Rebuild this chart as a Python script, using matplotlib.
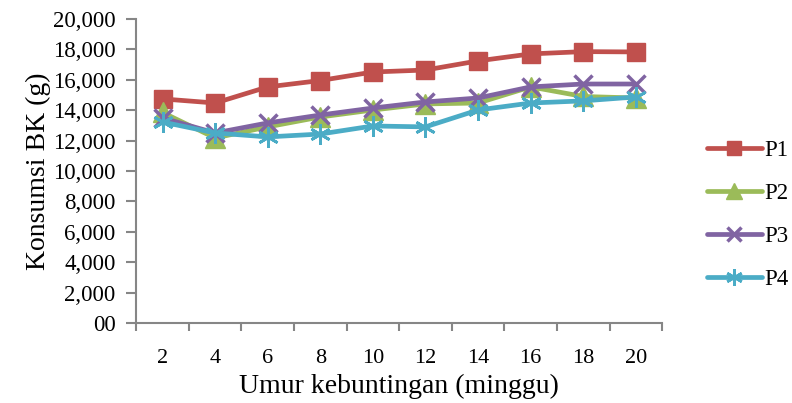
import matplotlib.pyplot as plt
from matplotlib.ticker import FuncFormatter, MultipleLocator

plt.rcParams['font.family'] = ['Liberation Serif', 'DejaVu Serif']

minggu = [2, 4, 6, 8, 10, 12, 14, 16, 18, 20]
p1 = [14740, 14470, 15530, 15950, 16510, 16640, 17240, 17700, 17850, 17830]
p2 = [13850, 12170, 12900, 13550, 14010, 14410, 14470, 15530, 14900, 14800]
p3 = [13490, 12500, 13160, 13680, 14140, 14540, 14800, 15530, 15720, 15720]
p4 = [13220, 12500, 12240, 12430, 12960, 12900, 14010, 14470, 14610, 14870]

series = [
    ('P1', p1, '#C0504D', 's', 13, 1),
    ('P2', p2, '#9BBB59', '^', 14, 1),
    ('P3', p3, '#8064A2', 'x', 13, 2.5),
    ('P4', p4, '#4BACC6', (6, 2, 0), 15, 2),
]

fig = plt.figure(figsize=(7.92, 4.03), dpi=100)
ax = fig.add_axes([0.172, 0.1985, 0.664, 0.7545])

for name, vals, col, mk, ms, mew in series:
    ax.plot(minggu, vals, color=col, lw=3.4, marker=mk, markersize=ms,
            markeredgewidth=mew, markeredgecolor=col, markerfacecolor=col,
            label=name, solid_capstyle='round')

ax.set_xlim(1, 21)
ax.set_ylim(0, 20000)
ax.set_xticks(minggu)
ax.xaxis.set_minor_locator(plt.FixedLocator(range(1, 22, 2)))
ax.tick_params(axis='x', which='major', length=0, labelsize=16, pad=19)
ax.tick_params(axis='x', which='minor', length=6, color='#868686', width=1.5)
ax.yaxis.set_major_locator(MultipleLocator(2000))
ax.yaxis.set_major_formatter(FuncFormatter(lambda v, p: '00' if v == 0 else f'{int(v):,}'))
ax.tick_params(axis='y', length=7, color='#868686', width=1.5, labelsize=16.5, pad=8)

for s in ['top', 'right']:
    ax.spines[s].set_visible(False)
for s in ['left', 'bottom']:
    ax.spines[s].set_color('#868686')
    ax.spines[s].set_linewidth(1.5)

ax.set_xlabel('Umur kebuntingan (minggu)', fontsize=20, labelpad=4)
ax.set_ylabel('Konsumsi BK (g)', fontsize=20, labelpad=1)

leg = ax.legend(loc='center left', bbox_to_anchor=(1.046, 0.355), frameon=False,
                fontsize=16.5, handlelength=2.4, labelspacing=0.95,
                handletextpad=0.1, markerscale=0.8)

fig.savefig('out.png', dpi=100)
